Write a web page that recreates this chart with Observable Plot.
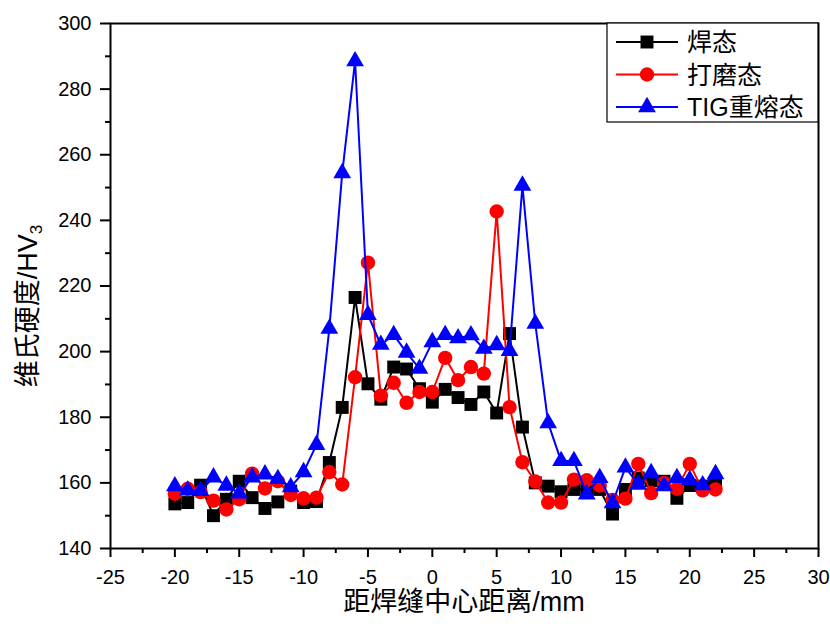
<!DOCTYPE html>
<html>
<head>
<meta charset="utf-8">
<script src="https://cdn.jsdelivr.net/npm/d3@7"></script>
<script src="https://cdn.jsdelivr.net/npm/@observablehq/plot@0.6"></script>
<style>
  html, body { margin: 0; padding: 0; background: #fff; }
  #chart { width: 830px; height: 628px; }
</style>
</head>
<body>
<div id="chart"></div>
<script>
// Distance from weld centre (mm)
const distance = [-20,-19,-18,-17,-16,-15,-14,-13,-12,-11,-10,-9,-8,-7,-6,-5,-4,-3,-2,-1,0,1,2,3,4,5,6,7,8,9,10,11,12,13,14,15,16,17,18,19,20,21,22];

// 焊态 (as-welded)
const asWelded = [153.6,154,159.3,150,155,160.5,155.5,152.2,154.2,157.5,154,154.3,166.2,183,216.5,190.2,185.5,195.3,194.7,188.7,184.6,188.5,186,183.9,187.7,181.3,205.5,177,160,159,157.3,158,158,158,150.5,158,161.5,160.7,160.5,155.3,159.2,159,160.5];

// 打磨态 (ground)
const ground = [156.7,158.2,157.2,154.6,151.9,155,162.8,158.3,160.5,156.3,155.3,155.5,163.3,159.5,192.2,227.1,186.6,190.5,184.4,187.7,187.7,198.1,191.3,195.3,193.3,242.7,183.1,166.3,160.4,154,154,161,160.8,159.2,154.8,155.2,165.8,156.9,160,158.2,165.8,157.7,158];

// TIG重熔态 (TIG remelted)
const tig = [159,157.7,157.6,161.7,159.2,156.8,161.7,162.6,161.2,158.7,163.3,171.6,207,254.4,288.5,211.2,202.1,205.1,199.7,194.8,202.9,205.1,204.1,205,200.9,202,200.2,250.6,208.5,178.2,166.7,166.7,156.5,161.5,153.8,164.7,159.5,163,159,161.5,160.9,159.3,162.7];

const seriesNames = ["焊态", "打磨态", "TIG重熔态"];
const seriesColors = ["#000000", "#ff0000", "#0000ff"];
const seriesSymbols = ["square", "circle", "triangle"];
const seriesRadius = [7.3, 7.2, 6.6];

const xMajorTicks = [-25,-20,-15,-10,-5,0,5,10,15,20,25,30];
const xMinorTicks = [-22.5,-17.5,-12.5,-7.5,-2.5,2.5,7.5,12.5,17.5,22.5,27.5];
const yMajorTicks = [140,160,180,200,220,240,260,280,300];
const yMinorTicks = [150,170,190,210,230,250,270,290];

const xTitle = "距焊缝中心距离/mm";
const yTitleMain = "维氏硬度/HV";
const yTitleSub = "3";

const allSeries = [asWelded, ground, tig];
const rows = [];
allSeries.forEach((vals, s) => {
  vals.forEach((v, i) => rows.push({x: distance[i], y: v, s: seriesNames[s]}));
});

const FONT = "'Liberation Sans', Arial, 'Noto Sans CJK SC', sans-serif";
const plainFormat = d => String(d);

const marks = [];
marks.push(Plot.axisX({ticks: xMinorTicks, tickSize: 5, text: null, label: null, strokeWidth: 2}));
marks.push(Plot.axisX({ticks: xMajorTicks, tickSize: 9, tickPadding: 12, fontSize: 20, label: null, strokeWidth: 2, tickFormat: plainFormat}));
marks.push(Plot.axisY({ticks: yMinorTicks, tickSize: 5, text: null, label: null, strokeWidth: 2}));
marks.push(Plot.axisY({ticks: yMajorTicks, tickSize: 10, tickPadding: 9, fontSize: 20, label: null, strokeWidth: 2, tickFormat: plainFormat}));
seriesNames.forEach((name, s) => {
  const d = rows.filter(r => r.s === name);
  marks.push(Plot.line(d, {x: "x", y: "y", stroke: seriesColors[s], strokeWidth: 2}));
  marks.push(Plot.dot(d, {x: "x", y: "y", symbol: seriesSymbols[s], r: seriesRadius[s], fill: seriesColors[s], stroke: "none"}));
});
marks.push(Plot.frame({stroke: "#000", strokeWidth: 2}));

const chart = Plot.plot({
  width: 830,
  height: 628,
  marginLeft: 110,
  marginRight: 12,
  marginTop: 23,
  marginBottom: 80,
  x: {domain: [-25, 30]},
  y: {domain: [140, 300]},
  style: {fontFamily: FONT, color: "#000", background: "#fff", overflow: "visible"},
  marks
});
document.getElementById("chart").appendChild(chart);

const svg = d3.select(chart);

// axis titles
svg.append("text")
  .attr("x", 464).attr("y", 611)
  .attr("text-anchor", "middle")
  .style("font-family", FONT).style("font-size", "27px").attr("fill", "#000")
  .text(xTitle);

const yt = svg.append("text")
  .attr("transform", "translate(37,306) rotate(-90)")
  .attr("text-anchor", "middle")
  .style("font-family", FONT).style("font-size", "27px").attr("fill", "#000");
yt.append("tspan").text(yTitleMain);
yt.append("tspan").attr("dy", "0.3em").style("font-size", "17px").text(yTitleSub);

// legend
const lg = svg.append("g");
lg.append("rect").attr("x", 607).attr("y", 23).attr("width", 211).attr("height", 99)
  .attr("fill", "#fff").attr("stroke", "#000").attr("stroke-width", 1.2);
seriesNames.forEach((name, s) => {
  const cy = 42 + s * 32.5;
  lg.append("line").attr("x1", 616).attr("x2", 678).attr("y1", cy).attr("y2", cy)
    .attr("stroke", seriesColors[s]).attr("stroke-width", 2);
  const symType = [d3.symbolSquare, d3.symbolCircle, d3.symbolTriangle][s];
  const r = seriesRadius[s];
  lg.append("path").attr("transform", `translate(647,${cy})`)
    .attr("d", d3.symbol(symType, Math.PI * r * r)())
    .attr("fill", seriesColors[s]);
  lg.append("text").attr("x", 687).attr("y", cy).attr("dy", "0.36em")
    .attr("text-anchor", "start")
    .style("font-family", FONT).style("font-size", "25px").attr("fill", "#000")
    .text(name);
});
</script>
</body>
</html>
